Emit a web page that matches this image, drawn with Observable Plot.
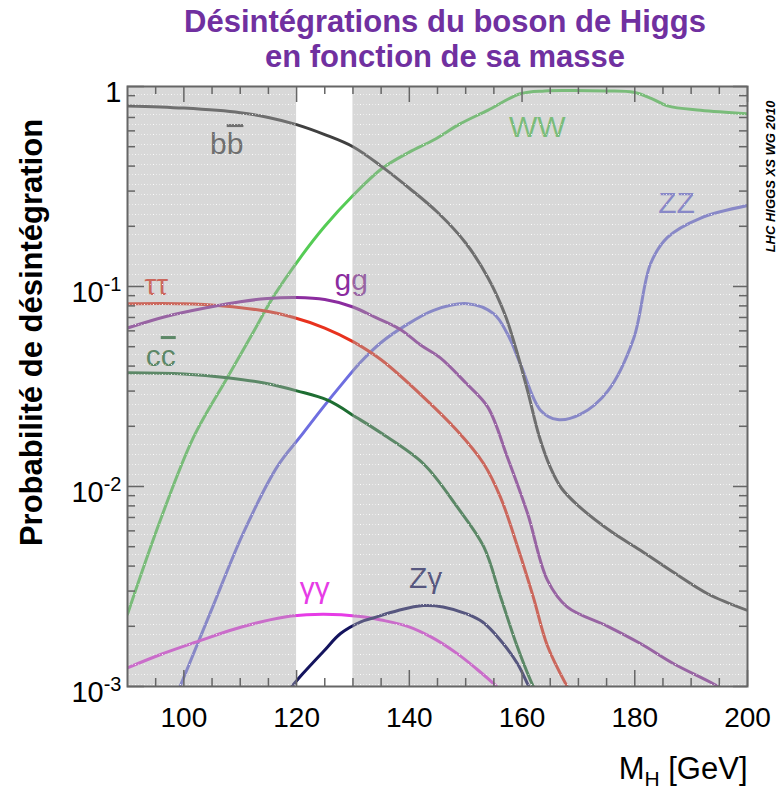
<!DOCTYPE html>
<html><head><meta charset="utf-8">
<script src="https://cdn.jsdelivr.net/npm/d3@7"></script>
<script src="https://cdn.jsdelivr.net/npm/@observablehq/plot@0.6"></script>
<style>
body{margin:0;background:#fff;width:780px;height:788px;overflow:hidden;font-family:"Liberation Sans",Arial,sans-serif;position:relative}
#title{position:absolute;left:100px;width:690px;top:4px;text-align:center;color:#7030a0;font-weight:bold;font-size:31px;line-height:35px}
#chart{position:absolute;left:0;top:80px}
</style></head><body>
<div id="title">Désintégrations du boson de Higgs<br>en fonction de sa masse</div>
<div id="chart"></div>
<script>
// ---- data ----
const massBB = [90,100,110,115,120,125,130,135,140,145,150,154,157,159,161,163,165,167,170,176,181,187,193,200];
const brBB   = [0.80,0.78,0.74,0.70,0.645,0.575,0.50,0.40,0.31,0.235,0.165,0.11,0.072,0.048,0.030,0.018,0.0125,0.0098,0.0080,0.0059,0.0048,0.0037,0.0029,0.0024];

const massWW = [90,96,101.7,107.7,112,116,120.7,125,130,135.2,140,144.3,149,153.9,159.7,164,168,175,179.8,183,185.8,191.7,200];
const brWW   = [0.0023,0.0070,0.0176,0.035,0.057,0.09,0.14,0.20,0.285,0.39,0.47,0.54,0.65,0.76,0.92,0.95,0.955,0.95,0.935,0.87,0.80,0.76,0.73];

const massZZ = [99,104.7,110.6,116.6,120.7,124.8,128,131.3,135,139,144.3,150.3,155,157.4,159.7,163.3,166.3,170.4,175.2,179.8,182.8,185.8,191.7,200];
const brZZ   = [0.00095,0.00234,0.0059,0.0126,0.0178,0.0251,0.0324,0.0417,0.0525,0.063,0.076,0.082,0.073,0.058,0.041,0.024,0.0216,0.023,0.030,0.055,0.13,0.176,0.22,0.254];

const massGG = [90,97,104.7,110,114.8,120,125,130,134,138.4,142,145.5,150,153.9,157.4,161,164.5,168,175.2,181,186.9,194,196];
const brGG   = [0.062,0.071,0.079,0.084,0.087,0.088,0.086,0.079,0.070,0.061,0.051,0.044,0.033,0.025,0.014,0.0073,0.0034,0.0025,0.0020,0.00164,0.0013,0.00103,0.00095];

const massTT = [90,100,107,113.6,119.5,125,130,135,142.5,148.5,153.2,156.2,159.2,162,164.5,168,170];
const brTT   = [0.082,0.082,0.080,0.076,0.070,0.062,0.053,0.043,0.028,0.019,0.013,0.0088,0.0050,0.0028,0.0016,0.001,0.0008];

const massCC = [90,100,107.7,114,120.2,125.5,130.8,135,142.5,148.5,153.2,156.2,159.2,162,164];
const brCC   = [0.037,0.0365,0.035,0.033,0.030,0.027,0.022,0.0185,0.013,0.0079,0.0050,0.0028,0.00157,0.001,0.0008];

const massAA = [90,96,103,108,113.6,119,124.8,131.3,135,139.7,144,148.5,152,155,157];
const brAA   = [0.00124,0.00145,0.0017,0.0019,0.0021,0.00225,0.0023,0.00224,0.00215,0.0020,0.00176,0.00146,0.00122,0.00103,0.0009];

const massZA = [118.5,121,124.8,127.8,131.3,133.6,138,142.5,146,150.3,153,156.2,159.2,161.2,162.5];
const brZA   = [0.00095,0.00115,0.0015,0.00184,0.0021,0.0022,0.0024,0.00254,0.0025,0.0023,0.0021,0.0017,0.0013,0.001,0.00085];

const labelText = ["bb","WW","ZZ","ττ","gg","cc","γγ","Zγ"];
const labelMass = [107.6,162.7,187.4,95.1,129.7,95.9,123.2,142.9];
const labelBR   = [0.513,0.624,0.26,0.101,0.107,0.0447,0.00309,0.00347];

const shadeStart = [90,130];
const shadeEnd   = [120,200];

const xMajor = [100,120,140,160,180,200];
const xMinor = d3.range(95,200,5).filter(v => v % 20 !== 0);
const yMajor = [1,0.1,0.01,0.001];
const yMinor = [0.001,0.01,0.1].flatMap(p => [2,3,4,5,6,7,8,9].map(k => k*p));

// ---- styles ----
const colors = {bb:"#404040", WW:"#55cc55", ZZ:"#6e6ee0", gg:"#8b2c9f", "ττ":"#e8321e", cc:"#1e6e32", "γγ":"#e63ce6", "Zγ":"#14145e"};
const series = [
  ["WW", massWW, brWW], ["ZZ", massZZ, brZZ], ["bb", massBB, brBB], ["cc", massCC, brCC],
  ["ττ", massTT, brTT], ["gg", massGG, brGG], ["γγ", massAA, brAA], ["Zγ", massZA, brZA]
];
const shades = shadeStart.map((s,i) => ({x1:s, x2:shadeEnd[i]}));
const labels = labelText.map((t,i) => ({t, m: labelMass[i], br: labelBR[i]}));

const FW = 620, FH = 600;
const tickStroke = "#666";

const plot = Plot.plot({
  width: 780, height: 708,
  marginLeft: 127, marginRight: 33, marginTop: 6, marginBottom: 102,
  style: {fontFamily: "'Liberation Sans', Arial, sans-serif", color: "#000", background: "transparent", overflow: "visible"},
  x: {domain: [90,200], axis: null},
  y: {type: "log", domain: [0.001, 1], axis: null},
  marks: [
    ...series.map(([k, m, b]) => Plot.line(d3.zip(m, b), {x: d => d[0], y: d => d[1], stroke: colors[k], strokeWidth: 3, curve: "catmull-rom", clip: true})),
    ...labels.map(l => Plot.text([l], {x: "m", y: "br", text: "t", fill: colors[l.t], fontSize: 30})),
    Plot.rect(shades, {x1: "x1", x2: "x2", fill: "#a8a8a8", fillOpacity: 0.45}),
    Plot.rect(shades, {x1: "x1", x2: "x2", fill: "url(#dots)"}),
    Plot.ruleX(xMinor, {insetTop: FH-8, stroke: tickStroke, strokeWidth: 1.5}),
    Plot.ruleX(xMinor, {insetBottom: FH-8, stroke: tickStroke, strokeWidth: 1.5}),
    Plot.ruleX(xMajor, {insetTop: FH-16, stroke: tickStroke, strokeWidth: 1.5}),
    Plot.ruleX(xMajor, {insetBottom: FH-16, stroke: tickStroke, strokeWidth: 1.5}),
    Plot.ruleY(yMinor, {insetRight: FW-8, stroke: tickStroke, strokeWidth: 1.5}),
    Plot.ruleY(yMinor, {insetLeft: FW-8, stroke: tickStroke, strokeWidth: 1.5}),
    Plot.ruleY(yMajor, {insetRight: FW-17, stroke: tickStroke, strokeWidth: 1.5}),
    Plot.ruleY(yMajor, {insetLeft: FW-14, stroke: tickStroke, strokeWidth: 1.5}),
    Plot.frame({stroke: "#666", strokeWidth: 2}),
    Plot.axisX({ticks: xMajor, anchor: "bottom", tickSize: 0, tickPadding: 21, fontSize: 28, tickFormat: d => String(d), label: null}),
    Plot.axisY({ticks: yMajor, anchor: "left", tickSize: 0, tickPadding: 6, fontSize: 29, dy: 6, label: null,
      tickFormat: d => d === 1 ? "1" : "10^" + Math.round(Math.log10(d))}),
    Plot.text(["Probabilité de désintégration"], {text: d => d, frameAnchor: "left", textAnchor: "middle", dx: -95, dy: -54, rotate: -90, fontSize: 31, fontWeight: "bold"}),
    Plot.text(["MH [GeV]"], {text: d => d, frameAnchor: "bottom-right", textAnchor: "end", dx: 0, dy: 92, fontSize: 31}),
    Plot.text(["LHC HIGGS XS WG 2010"], {text: d => d, frameAnchor: "top-right", textAnchor: "middle", dx: 18, dy: 90, rotate: -90, fontSize: 13, fontWeight: "bold", fontStyle: "italic"})
  ]
});

// pattern of white dots for the shaded regions
const svg = d3.select(plot);
const defs = svg.insert("defs", ":first-child");
const pat = defs.append("pattern").attr("id", "dots").attr("patternUnits", "userSpaceOnUse")
  .attr("width", 9).attr("height", 10).attr("y", 4);
[0,3,6].forEach(x => pat.append("rect").attr("x", x).attr("y", 0).attr("width", 1).attr("height", 1).attr("fill", "#fff").attr("fill-opacity", x === 0 ? 0.95 : 0.5));

// rich text: superscripts, subscripts, overlines
svg.selectAll("text").each(function() {
  const t = this.textContent;
  const sel = d3.select(this);
  if (/^10\^-\d$/.test(t)) {
    sel.text("10");
    sel.append("tspan").attr("dy", -11).attr("font-size", 20).text(t.slice(3));
  } else if (t === "MH [GeV]") {
    sel.text("M");
    sel.append("tspan").attr("dy", 7).attr("font-size", 21).text("H");
    sel.append("tspan").attr("dy", -7).text(" [GeV]");
  } else if (t === "bb" || t === "cc") {
    sel.text(t[0]);
    sel.append("tspan").style("text-decoration", "overline").text(t[1]);
  }
});

document.getElementById("chart").appendChild(plot);
</script>
</body></html>
